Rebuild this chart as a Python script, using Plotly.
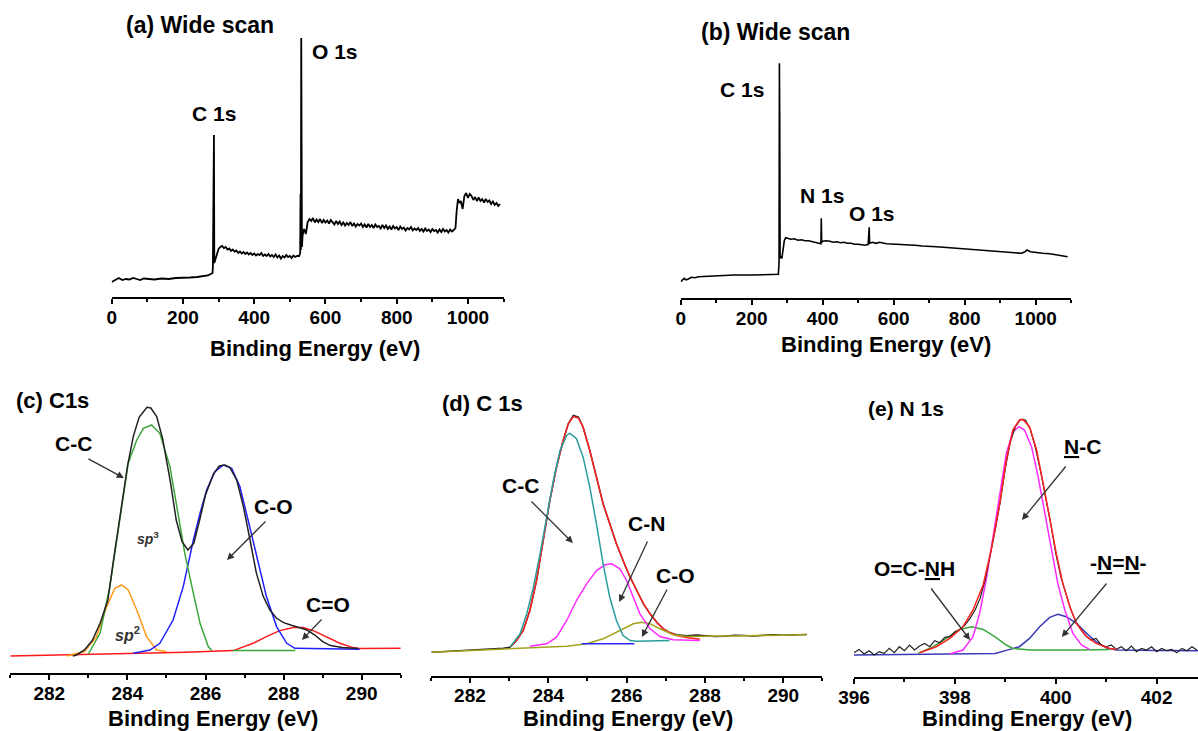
import plotly.graph_objects as go

W, H = 1198, 731
FONT = "Liberation Sans"

# ---------------- data ----------------
# (a) wide scan
a_ev = [0, 10, 20, 30, 40, 50, 60, 70, 80, 90, 100, 120, 140, 160, 180, 200, 220, 240, 260, 270, 278, 283, 284, 285, 286, 287, 288, 290, 295,
        300, 305, 310, 315, 320, 325, 330, 335, 340, 345, 350, 355, 360, 365, 370, 375, 380, 385, 390, 395, 400, 405, 410, 415,
        420, 425, 430, 435, 440, 445, 450, 455, 460, 465, 470, 475, 480, 485, 490, 495, 500, 505, 510, 515, 520,
        526, 529, 530, 531, 532, 533, 534, 536, 540,
        545, 550, 555, 560, 565, 570, 575, 580, 585, 590, 595, 600, 605, 610, 615, 620, 625, 630, 635, 640, 645, 650, 655, 660,
        665, 670, 675, 680, 685, 690, 695, 700, 705, 710, 715, 720, 725, 730, 735, 740, 745, 750, 755, 760, 765, 770, 775, 780,
        785, 790, 795, 800, 805, 810, 815, 820, 825, 830, 835, 840, 845, 850, 855, 860, 865, 870, 875, 880, 885, 890, 895, 900,
        905, 910, 915, 920, 925, 930, 935, 940, 945, 950, 955, 960, 965,
        968, 972, 976, 980, 985, 990, 995, 1000, 1005, 1010, 1015, 1020, 1025, 1030, 1035, 1040, 1045, 1050, 1055, 1060,
        1065, 1070, 1075, 1080, 1085, 1090]
a_int = [15, 17, 19, 17, 18, 17.5, 19, 18, 17, 18.5, 18, 17.5, 18.5, 18, 19, 19, 19.5, 20, 20.5, 21.5, 23, 24, 30, 108, 31, 162, 34, 36, 42,
         48, 50, 51, 49, 50, 47.5, 48.5, 46, 47.5, 45.5, 46.5, 44, 45.5, 43.5, 45, 43, 44.5, 42.5, 44, 42, 43.5, 41.5, 43, 42,
         44, 41, 42.5, 41, 43, 40.5, 42, 40, 42.5, 39.5, 41.5, 38.5, 41, 39.5, 42, 40, 41, 39, 41.5, 40, 41,
         41, 44, 103, 47, 259, 101, 50, 62, 68,
         63, 75, 78, 76, 79, 74.5, 77.5, 75, 78, 74, 77, 74.5, 76.5, 73.5, 77, 75, 72.5, 76, 73, 75.5, 72, 74.5, 71.5, 74,
         72, 75, 71, 73.5, 70.5, 73, 71.5, 73.5, 70, 72.5, 69.5, 73, 70, 72, 69, 72.5, 70, 71, 68.5, 72, 69, 71.5, 68, 70.5,
         67.5, 71, 68.5, 70, 67, 70.5, 68, 69.5, 66.5, 69, 67.5, 70, 66.5, 68.5, 67, 69, 66, 68, 65.5, 68.5, 66, 67.5, 65, 68,
         66, 67, 64.5, 67.5, 65, 68, 65.5, 67, 64.5, 67.5, 65.5, 67, 69,
         85, 98, 94, 96, 88, 101, 104, 99, 103, 101, 97, 100, 96, 99.5, 96, 98, 94.5, 98, 95, 96.5,
         93, 95.5, 92, 94, 91, 93]

# (b) wide scan
b_ev = [0, 5, 10, 15, 20, 30, 40, 50, 60, 80, 100, 150, 200, 250, 270, 275, 277, 278, 279, 280, 282, 285, 288, 292, 296,
        300, 310, 320, 330, 340, 350, 360, 370, 380, 390, 395, 396, 397, 400, 410, 420, 430, 440, 450, 460, 470, 480, 490,
        500, 510, 520, 528, 530, 531, 532, 540, 550, 560, 580, 600, 620, 640, 660, 680, 700, 720, 740, 760, 780, 800, 820,
        840, 860, 880, 900, 920, 940, 960, 970, 975, 985, 1000, 1020, 1040, 1060, 1080, 1090]
b_int = [16.7, 18, 20, 18.5, 19, 21, 20.5, 21.5, 21.7, 22.5, 23, 23.3, 23.3, 23.3, 23.5, 24, 35, 235, 175, 40, 42, 40, 48, 58, 60.5,
         60, 59, 59.5, 58, 58.5, 57.5, 57.5, 56.5, 56, 55, 54.5, 80, 56, 57, 57.5, 57, 56, 56.5, 55.5, 56, 55, 55, 54,
         54, 53.5, 53, 54, 71, 71, 55, 56, 55, 56, 54.5, 54.3, 54, 53.3, 53, 52.3, 51.6, 51.5, 51, 50.5, 49.8, 49.3, 49,
         48.5, 48, 47.5, 47, 46.5, 45.6, 45, 46.5, 48.3, 46.6, 45.6, 45, 44.5, 43.5, 42.5, 41.6]

# (c) C1s fit
c_env_ev = [282.6, 282.7, 282.9, 283.1, 283.3, 283.5, 283.65, 283.8, 283.95, 284.0, 284.15, 284.3, 284.5, 284.6, 284.75, 284.9,
            285.1, 285.25, 285.4, 285.55, 285.7, 285.85, 286.0, 286.2, 286.35, 286.5, 286.62, 286.8, 286.97, 287.14, 287.3,
            287.48, 287.65, 287.82, 288.0, 288.2, 288.4, 288.6, 288.8, 289.0, 289.2, 289.5, 289.9]
c_env = [17.3, 18.3, 23.3, 32.7, 50, 73.3, 115, 156.7, 193.3, 206.7, 236.7, 256, 266, 265.3, 256.7, 235,
         191.7, 153.3, 131.7, 123.3, 130, 153.3, 178.3, 199, 207.3, 208.3, 206, 193.3, 166.7, 133.3, 100.7,
         76.7, 63.3, 55, 50.7, 48, 46, 43.3, 38.3, 31.7, 27.7, 25.7, 24.7]
c_sp3_ev = [283.0, 283.3, 283.55, 283.81, 284.02, 284.24, 284.41, 284.62, 284.83, 285.09, 285.26, 285.47, 285.69, 285.86, 286.07, 286.16,
            None, 286.7, 288.3]
c_sp3 = [19.3, 40, 86.7, 153.3, 210, 233.3, 245, 248.3, 240, 206.7, 166.7, 120, 80, 50, 26.7, 22.7,
         None, 22.7, 22.7]
c_sp2_ev = [282.44, 282.9, 283.21, 283.47, 283.68, 283.85, 284.02, 284.24, 284.49, 284.75, 285.0]
c_sp2 = [17.3, 21.7, 36.7, 66.7, 85, 88.3, 83.3, 63.3, 36.7, 23.3, 21.7]
c_co_ev = [284.15, 284.58, 284.83, 285.17, 285.43, 285.69, 285.86, 286.03, 286.24, 286.46, 286.67, 286.88, 287.09, 287.31,
           287.56, 287.82, 288.08, 288.29, 289.95]
c_co = [20, 23.3, 30, 53.3, 86.7, 133.3, 160, 183.3, 201.7, 208.3, 205, 186.7, 153.3, 116.7,
        76.7, 46.7, 30, 25, 24]
c_cdo_ev = [281.0, 282.5, 284.0, 285.5, 286.71, 287.22, 287.56, 287.9, 288.25, 288.5, 288.76, 289.1, 289.44, 289.78, 289.95, 291.0]
c_cdo = [17.3, 18.5, 19.5, 21, 22.7, 30, 36.7, 42.7, 45.7, 45.7, 42.7, 36.7, 30, 25.7, 24.7, 25]

# (d) C 1s fit
d_raw_ev = [281.02, 281.5, 282.0, 282.5, 282.85, 283.02, 283.19, 283.36, 283.53, 283.7, 283.87, 284.04, 284.21, 284.38, 284.51,
            284.64, 284.77, 284.89, 285.06, 285.23, 285.4, 285.57, 285.74, 285.91, 286.09, 286.26, 286.43, 286.6, 286.77,
            286.94, 287.11, 287.28, 287.53, 287.8, 288.0, 288.25, 288.5, 288.75, 289.0, 289.25, 289.5, 289.75, 290.0, 290.3, 290.6]
d_raw = [23.3, 24.3, 25.7, 26.7, 27.3, 28.3, 35, 45, 65, 95, 135, 175, 208.3, 235, 251.7,
         260, 258.3, 248.3, 225, 198.3, 171.7, 151.7, 131.7, 115, 98.3, 85, 71.7, 61.7, 53.3,
         46.7, 42.7, 40.7, 39.7, 40.5, 39.7, 39, 39.3, 40.2, 40, 39.5, 40.3, 40.8, 40.3, 40.9, 41]
d_fit_ev = [283.02, 283.19, 283.36, 283.53, 283.7, 283.87, 284.04, 284.21, 284.38, 284.51, 284.64, 284.77, 284.89, 285.06, 285.23,
            285.4, 285.57, 285.74, 285.91, 286.09, 286.26, 286.43, 286.6, 286.77, 286.94, 287.11, 287.28, 287.53, 287.87]
d_fit = [28.3, 35, 45, 65, 95, 135, 175, 208.3, 235, 251.7, 259, 257.5, 248.3, 225, 198.3,
         171.7, 151.7, 131.7, 115, 98.3, 85, 71.7, 61.7, 53.3, 46.7, 42.7, 40, 38, 36.3]
d_cc_ev = [283.02, 283.28, 283.45, 283.62, 283.79, 283.96, 284.13, 284.3, 284.47, 284.55, 284.72, 284.89, 285.06, 285.23,
           285.4, 285.57, 285.74, 285.91, 286.09, 286.26, 287.1]
d_cc = [28.3, 41.7, 61.7, 88.3, 121.7, 158.3, 195, 225, 240, 242.3, 236.7, 218.3, 188.3, 151.7,
        111.7, 78.3, 55, 40, 35, 34.3, 35]
d_cn_ev = [283.53, 283.96, 284.21, 284.47, 284.72, 284.98, 285.23, 285.45, 285.62, 285.83, 286.0, 286.17, 286.34, 286.6,
           286.85, 287.19, 287.53, 287.87]
d_cn = [29.3, 31.7, 38.3, 55, 75, 91.7, 105, 110.7, 111.7, 106.7, 95, 78.3, 61.7, 46.7,
        39, 35.7, 35, 35]
d_co_ev = [281.02, 282.0, 283.0, 284.0, 284.47, 284.98, 285.4, 285.83, 286.17, 286.38, 286.6, 286.85, 287.19, 287.53, 288.0,
           289.0, 290.0, 290.6]
d_co = [23.3, 25, 26.7, 28.3, 29.3, 31.7, 36.7, 45, 51.7, 53.3, 51.7, 46.7, 40.7, 39, 39,
        39.7, 40.3, 41]
d_bg_ev = [284.85, 286.2]
d_bg = [31.7, 31.7]

# (e) N 1s fit
e_raw_ev = [396.0, 396.1, 396.2, 396.3, 396.4, 396.5, 396.6, 396.7, 396.8, 396.9, 397.0, 397.1, 397.2, 397.3, 397.4, 397.5,
            397.6, 397.7, 397.8, 397.9, 398.0, 398.1, 398.2, 398.3, 398.4, 398.5, 398.6, 398.7, 398.8, 398.9, 399.0, 399.1,
            399.2, 399.3, 399.4, 399.5, 399.6, 399.7, 399.8, 399.9, 400.0, 400.1, 400.2, 400.3, 400.4, 400.5, 400.6, 400.7,
            400.8, 400.9, 401.0, 401.1, 401.2, 401.3, 401.4, 401.5, 401.6, 401.7, 401.8, 401.9, 402.0, 402.1, 402.2, 402.3,
            402.4, 402.5, 402.6, 402.7, 402.8]
e_raw = [24, 27.3, 22.7, 26, 21.7, 25, 23.3, 28.3, 24, 30, 26, 31.7, 26.7, 30.7, 33.3, 30,
         36, 34, 39.3, 40, 45, 47.3, 51.7, 58.3, 66.7, 78.3, 96.7, 120, 146.7, 175, 208.3, 235,
         250, 257.3, 256.7, 246.7, 228.3, 205, 180, 153.3, 123.3, 100, 83.3, 66.7, 55, 46.7, 40.7, 36.7,
         38.3, 31.7, 30, 31.7, 27.3, 30, 26, 30.7, 25, 28.3, 26.7, 30, 25, 28.3, 26, 27.3,
         24, 28.3, 26, 30, 26.7]
e_fit_ev = [397.3, 397.63, 397.9, 398.16, 398.36, 398.56, 398.72, 398.89, 399.02, 399.15, 399.28, 399.35, 399.48, 399.62,
            399.75, 399.88, 400.01, 400.14, 400.28, 400.41, 400.61, 400.8, 401.07, 401.2]
e_fit = [24, 30, 38.3, 50, 66.7, 91.7, 126.7, 173.3, 216.7, 246.7, 256.7, 257.3, 250, 226.7,
         193.3, 156.7, 123.3, 93.3, 70, 53.3, 40, 33.3, 28.3, 27.3]
e_nc_ev = [397.9, 398.16, 398.36, 398.49, 398.62, 398.76, 398.89, 399.02, 399.15, 399.27, 399.38, 399.52, 399.65, 399.78,
           399.91, 400.04, 400.18, 400.34, 400.51, 400.67]
e_nc = [22.7, 26.7, 40, 63.3, 96.7, 140, 183.3, 223.3, 245, 250, 246.7, 230, 200, 163.3,
        126.7, 93.3, 66.7, 43.3, 31.7, 27.3]
e_amide_ev = [397.27, 397.57, 397.83, 398.1, 398.33, 398.56, 398.79, 399.02, 399.15, 399.5, 400.5, 401.07]
e_amide = [23.3, 30, 38.3, 47.3, 50, 47.3, 40, 31.7, 28.3, 26.7, 26.7, 27.3]
e_azo_ev = [396.0, 397.0, 398.0, 398.8, 399.09, 399.28, 399.48, 399.68, 399.88, 400.04, 400.21, 400.41, 400.61, 400.8,
            401.0, 401.2, 402.0, 402.82]
e_azo = [21.7, 22.3, 23, 23.3, 27.3, 30, 38.3, 50, 59.3, 62.3, 60, 53.3, 43.3, 35,
         29, 26.7, 26.3, 26]

# ---------------- figure ----------------
def fx(x):
    return x / W


def fy(y):
    return 1 - y / H


fig = go.Figure()

# panel geometry (pixels): left, right, top, axis line y
panels = [
    dict(n="", l=111.7, r=503.6, top=20, base=297.0, rng=[0, 1100], dtick=200, tick0=0, minor=100),
    dict(n="2", l=680.7, r=1071.2, top=25, base=298.3, rng=[0, 1100], dtick=200, tick0=0, minor=100),
    dict(n="3", l=10.25, r=400.75, top=385, base=673.3, rng=[281, 291], dtick=2, tick0=282, minor=1),
    dict(n="4", l=430.8, r=822.4, top=385, base=675.5, rng=[281, 291], dtick=2, tick0=282, minor=1),
    dict(n="5", l=854.0, r=1198.0, top=385, base=676.7, rng=[396, 402.82], dtick=2, tick0=396, minor=1),
]

layout = dict(
    width=W, height=H, margin=dict(l=0, r=0, t=0, b=0, pad=0, autoexpand=False),
    paper_bgcolor="white", plot_bgcolor="rgba(0,0,0,0)", showlegend=False,
    font=dict(family=FONT, color="black"),
)
for p in panels:
    n = p["n"]
    layout["xaxis" + n] = dict(
        domain=[fx(p["l"]), fx(p["r"])], range=p["rng"], anchor="y" + n,
        showline=True, linecolor="black", linewidth=2, showgrid=False, zeroline=False,
        ticks="outside", ticklen=5, tickwidth=2, tickcolor="black",
        dtick=p["dtick"], tick0=p["tick0"], automargin=False, ticklabelstandoff=-3,
        minor=dict(ticks="outside", ticklen=3, tickwidth=1.5, tickcolor="black", dtick=p["minor"], showgrid=False),
        tickfont=dict(family=FONT, size=19, color="black", weight="bold"),
        fixedrange=True,
    )
    layout["yaxis" + n] = dict(
        domain=[fy(p["base"]), fy(p["top"])], range=[0, p["base"] - p["top"]], anchor="x" + n,
        visible=False, fixedrange=True, automargin=False,
    )
fig.update_layout(**layout)


def line(x, y, ax, color, width=1.5):
    fig.add_trace(go.Scatter(x=x, y=y, mode="lines", xaxis="x" + ax, yaxis="y" + ax,
                             line=dict(color=color, width=width), hoverinfo="skip", connectgaps=False))


line(a_ev, a_int, "", "black", 1.8)
line(b_ev, b_int, "2", "black", 1.6)

line(c_cdo_ev, c_cdo, "3", "#ff1a1a")
line(c_sp2_ev, c_sp2, "3", "#ff9a1a")
line(c_co_ev, c_co, "3", "#1f1fff")
line(c_sp3_ev, c_sp3, "3", "#3aa63a")
line(c_env_ev, c_env, "3", "#222222")

line(d_raw_ev, d_raw, "4", "#222222", 1.5)
line(d_fit_ev, d_fit, "4", "#ff2020", 1.5)
line(d_co_ev, d_co, "4", "#a3a31a")
line(d_bg_ev, d_bg, "4", "#2a2aff")
line(d_cn_ev, d_cn, "4", "#ff2aff")
line(d_cc_ev, d_cc, "4", "#2a9d9d")

line(e_azo_ev, e_azo, "5", "#3a3ab8")
line(e_amide_ev, e_amide, "5", "#3aa63a")
line(e_nc_ev, e_nc, "5", "#ff2aff")
line(e_raw_ev, e_raw, "5", "#222222", 1.2)
line(e_fit_ev, e_fit, "5", "#ff2020")

annotations = []


def label(text, x, y, size=21, color="black"):
    annotations.append(dict(text=text, x=fx(x), y=fy(y), xref="paper", yref="paper",
                            xanchor="center", yanchor="middle", showarrow=False,
                            font=dict(family=FONT, size=size, color=color, weight="bold")))


def arrow(ax_name, x, y, dx, dy):
    annotations.append(dict(text="", x=x, y=y, xref="x" + ax_name, yref="y" + ax_name,
                            ax=dx, ay=dy, showarrow=True, arrowhead=2, arrowsize=1.1,
                            arrowwidth=1.3, arrowcolor="#333333", standoff=0))


# titles
label("(a) Wide scan", 200, 25, 23)
label("(b) Wide scan", 775, 32, 23)
label("(c) C1s", 53, 400, 22)
label("(d) C 1s", 482, 403, 22)
label("(e) N 1s", 906, 408, 21)

# axis titles
for xx, yy in [(315, 348), (886, 344), (213, 718), (628, 718), (1027, 718)]:
    label("Binding Energy (eV)", xx, yy, 22)

# peak labels
label("C 1s", 214, 113)
label("O 1s", 335, 52)
label("C 1s", 742, 90)
label("N 1s", 822, 195)
label("O 1s", 872, 213)

label("C-C", 73, 443)
label("<i>sp</i><sup>3</sup>", 148, 538, 14, "#333333")
label("<i>sp</i><sup>2</sup>", 127, 634, 16, "#333333")
label("C-O", 273, 506)
label("C=O", 328, 604)
arrow("3", 283.91, 195.3, -37, -20)
arrow("3", 286.55, 113.3, 40, -40)
arrow("3", 288.47, 33.3, 21, -22)

label("C-C", 520, 485)
label("C-N", 647, 523)
label("C-O", 675, 575)
arrow("4", 284.63, 132.5, -43, -43)
arrow("4", 285.81, 73.5, 29, -62)
arrow("4", 286.39, 38.5, 26, -49)

label("<u>N</u>-C", 1082, 447)
label("-<u>N</u>=<u>N</u>-", 1118, 562)
label("O=C-<u>N</u>H", 915, 568)
arrow("5", 399.33, 156.7, 45, -55)
arrow("5", 400.12, 39.7, 46, -55)
arrow("5", 398.3, 36.7, -40, -53)

fig.update_layout(annotations=annotations)

fig.write_html("out.html")
